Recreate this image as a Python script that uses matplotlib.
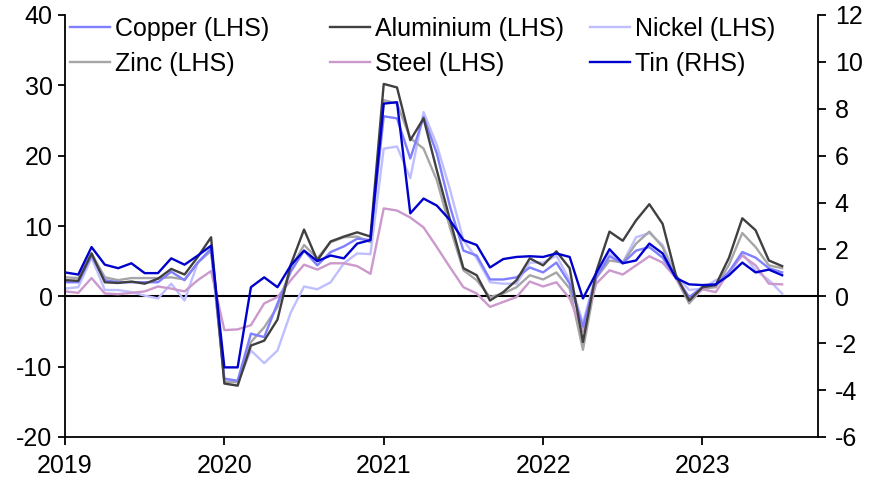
import matplotlib
matplotlib.use('Agg')
import matplotlib.pyplot as plt
import numpy as np

plt.rcParams['font.family'] = ['Liberation Sans', 'DejaVu Sans']
plt.rcParams['axes.unicode_minus'] = False

years = ['2019', '2020', '2021', '2022', '2023']

copper = [2.0, 2.0, 5.8, 2.3, 2.0, 2.0, 2.0, 2.0, 3.5, 2.3, 4.8, 6.8,
          -11.7, -12.0, -5.3, -5.8, -1.0, 3.5, 6.5, 4.4, 6.3, 7.1, 8.2, 8.0,
          25.6, 25.3, 19.6, 25.5, 20.3, 12.7, 6.5, 5.8, 2.4, 2.4, 2.7, 4.1,
          3.4, 4.8, 1.8, -4.3, 2.7, 5.7, 4.7, 6.5, 7.0, 5.5, 2.7, -0.1,
          1.3, 1.6, 3.5, 6.3, 5.5, 4.0, 3.4]
aluminium = [2.3, 2.2, 6.1, 2.0, 1.9, 2.1, 1.8, 2.5, 3.9, 3.1, 5.6, 8.4,
             -12.4, -12.7, -7.0, -6.3, -3.3, 4.5, 9.5, 5.1, 7.8, 8.5, 9.1, 8.5,
             30.2, 29.7, 22.2, 25.3, 17.9, 10.8, 4.0, 3.0, -0.6, 0.6, 2.3, 5.4,
             4.4, 6.4, 4.0, -6.5, 3.5, 9.2, 7.9, 10.8, 13.1, 10.3, 3.0, -0.6,
             1.3, 1.6, 5.5, 11.1, 9.4, 5.1, 4.3]
nickel = [1.1, 1.3, 5.5, 0.9, 0.9, 0.6, 0.1, -0.3, 1.8, -0.6, 4.8, 6.5,
          -12.0, -12.2, -7.7, -9.5, -7.7, -2.3, 1.4, 1.0, 2.0, 4.7, 6.1, 6.0,
          21.0, 21.3, 16.8, 26.2, 21.5, 15.1, 8.0, 5.4, 2.0, 1.8, 1.8, 4.8,
          4.8, 5.8, 2.3, -3.8, 3.3, 6.1, 4.8, 8.4, 9.0, 7.3, 3.0, 0.9,
          1.1, 2.3, 3.0, 6.1, 3.7, 2.3, 0.4]
zinc = [2.7, 2.6, 6.1, 2.7, 2.3, 2.6, 2.6, 2.6, 2.7, 2.4, 4.8, 6.5,
        -12.2, -12.2, -6.5, -4.4, -1.5, 4.0, 7.3, 5.4, 7.7, 8.4, 8.5, 7.7,
        27.9, 27.4, 22.5, 21.0, 16.5, 9.7, 3.7, 2.3, -0.1, 0.4, 1.3, 3.0,
        2.4, 3.4, 1.1, -7.6, 2.6, 5.1, 4.8, 7.5, 9.2, 7.0, 2.6, -1.0,
        1.1, 1.3, 4.5, 9.0, 7.0, 4.4, 4.0]
steel = [0.7, 0.5, 2.6, 0.4, 0.3, 0.5, 0.7, 1.4, 1.1, 0.7, 2.3, 3.6,
         -4.8, -4.7, -4.1, -1.0, -0.1, 2.3, 4.5, 3.8, 4.7, 4.7, 4.3, 3.2,
         12.5, 12.2, 11.2, 9.8, 7.0, 4.1, 1.3, 0.4, -1.5, -0.8, -0.1, 2.1,
         1.4, 2.0, -0.3, -5.0, 1.8, 3.7, 3.1, 4.4, 5.7, 4.8, 2.6, -0.6,
         1.0, 0.6, 3.5, 5.8, 4.4, 1.8, 1.7]
tin = [1.02, 0.93, 2.10, 1.35, 1.20, 1.41, 0.99, 0.99, 1.62, 1.35, 1.74, 2.16,
       -3.03, -3.03, 0.39, 0.81, 0.39, 1.32, 1.95, 1.50, 1.74, 1.62, 2.25, 2.40,
       8.22, 8.28, 3.54, 4.17, 3.87, 3.24, 2.40, 2.19, 1.23, 1.59, 1.68, 1.71,
       1.68, 1.83, 1.68, -0.09, 0.99, 2.01, 1.41, 1.53, 2.25, 1.83, 0.78, 0.51,
       0.48, 0.51, 0.90, 1.44, 1.02, 1.14, 0.90]

c_copper = '#7F7FFF'
c_alu = '#404040'
c_nickel = '#BFBFFF'
c_zinc = '#A6A6A6'
c_steel = '#CC99CC'
c_tin = '#0000CC'

fig = plt.figure(figsize=(8.74, 4.82), dpi=100)
ax = fig.add_axes([65/874, 1-437/482, (818-65)/874, (437-15)/482])
ax2 = ax.twinx()

x = np.arange(len(copper))
lw = 1.7
l_nickel, = ax.plot(x, nickel, color=c_nickel, lw=lw, label='Nickel (LHS)')
l_zinc, = ax.plot(x, zinc, color=c_zinc, lw=lw, label='Zinc (LHS)')
l_steel, = ax.plot(x, steel, color=c_steel, lw=lw, label='Steel (LHS)')
l_copper, = ax.plot(x, copper, color=c_copper, lw=lw, label='Copper (LHS)')
l_alu, = ax.plot(x, aluminium, color=c_alu, lw=lw, label='Aluminium (LHS)')
l_tin, = ax2.plot(x, tin, color=c_tin, lw=lw, label='Tin (RHS)')

ax.axhline(0, color='black', lw=1.5, zorder=1)

ax.set_xlim(0, 56.7)
ax.set_ylim(-20, 40)
ax2.set_ylim(-6, 12)
ax.set_xticks([0, 12, 24, 36, 48])
ax.set_xticklabels(years)
ax.set_yticks(np.arange(-20, 41, 10))
ax2.set_yticks(np.arange(-6, 13, 2))

fs = 18
for a in (ax, ax2):
    a.spines['top'].set_visible(False)
    for s in a.spines.values():
        s.set_linewidth(1.3)
ax.spines['right'].set_visible(False)
ax2.spines['left'].set_visible(False)
ax2.spines['bottom'].set_visible(False)
ax.tick_params(axis='y', direction='out', length=5, width=1.3, labelsize=fs, pad=4)
ax.tick_params(axis='x', direction='out', length=6, width=1.3, labelsize=fs, pad=6)
ax2.tick_params(axis='y', direction='out', length=6, width=1.3, labelsize=fs, pad=6)

W, H = 874, 482
cols = [([l_copper, l_zinc], 70), ([l_alu, l_steel], 330), ([l_nickel, l_tin], 590)]
for hs, px in cols:
    fig.legend(handles=hs, labels=[h.get_label() for h in hs],
               loc='upper left', bbox_to_anchor=(px/W, 1-17/H),
               frameon=False, fontsize=fs, handlelength=1.6,
               handletextpad=0.2, labelspacing=0.42, borderpad=0, borderaxespad=0)

fig.savefig('out.png', dpi=100)
